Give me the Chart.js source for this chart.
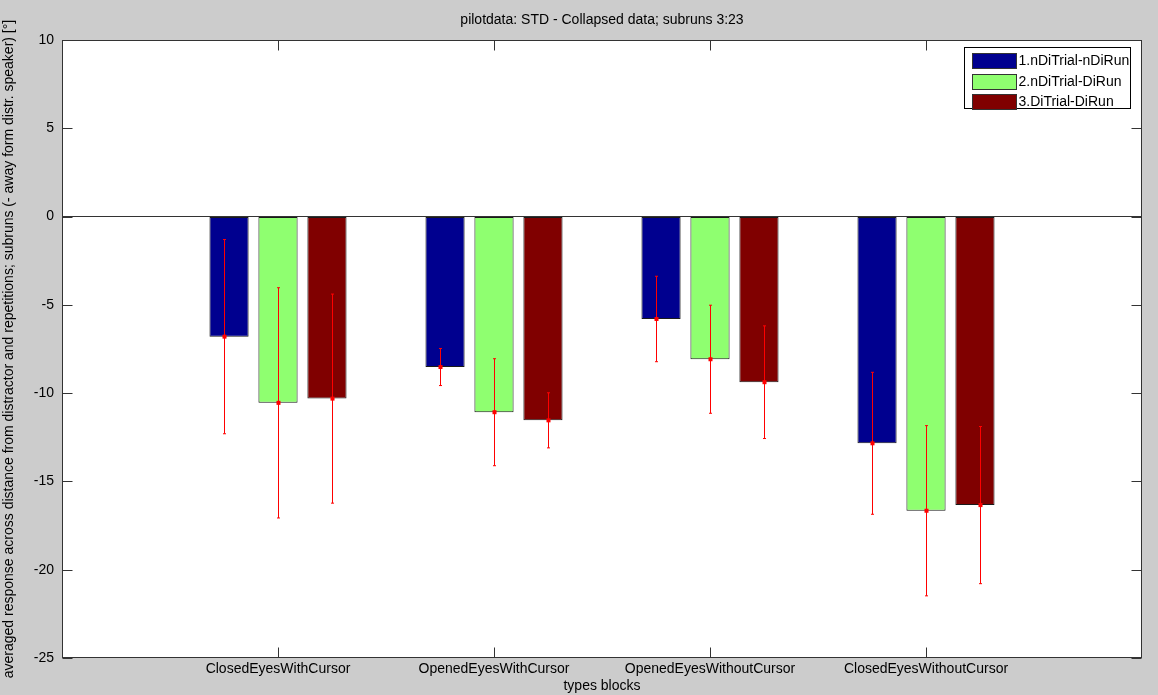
<!DOCTYPE html>
<html><head><meta charset="utf-8">
<script src="https://cdn.jsdelivr.net/npm/chart.js@4.4.0/dist/chart.umd.min.js"></script>
<style>html,body{margin:0;padding:0;background:#cccccc;overflow:hidden;}</style>
</head><body>
<canvas id="c" width="1158" height="695" style="display:block;width:1158px;height:695px;"></canvas>
<script>
// ---- data ----
const categories = ['ClosedEyesWithCursor', 'OpenedEyesWithCursor', 'OpenedEyesWithoutCursor', 'ClosedEyesWithoutCursor'];
const seriesNames = ['1.nDiTrial-nDiRun', '2.nDiTrial-DiRun', '3.DiTrial-DiRun'];
const meanNDiTrialNDiRun = [-6.80, -8.52, -5.80, -12.84];
const meanNDiTrialDiRun  = [-10.55, -11.08, -8.08, -16.66];
const meanDiTrialDiRun   = [-10.31, -11.54, -9.38, -16.34];
const stdNDiTrialNDiRun = [5.50, 1.05, 2.42, 4.02];
const stdNDiTrialDiRun  = [6.52, 3.03, 3.06, 4.82];
const stdDiTrialDiRun   = [5.92, 1.56, 3.19, 4.45];
const yTicks = [-25, -20, -15, -10, -5, 0, 5, 10];
const titleText = 'pilotdata: STD - Collapsed data; subruns 3:23';
const yTitle = 'averaged response across distance from distractor and repetitions; subruns (- away form distr. speaker) [°]';
const xTitle = 'types blocks';

// ---- styling ----
const FONT = 'Liberation Sans, Arial, Helvetica, sans-serif';
const FS = 14;
const barColors = ['#00008F', '#8FFF70', '#800000'];
const errOffsets = [-0.25, 0, 0.25]; // errorbar x positions relative to category (as in source figure)
const means = [meanNDiTrialNDiRun, meanNDiTrialDiRun, meanDiTrialDiRun];
const stds = [stdNDiTrialNDiRun, stdNDiTrialDiRun, stdDiTrialDiRun];

const datasets = seriesNames.map((name, i) => ({
  label: name,
  data: means[i].map((v, j) => ({x: j + 1, y: v})),
  backgroundColor: barColors[i],
  borderColor: '#1a1a1a',
  borderWidth: 1,
  borderSkipped: false,
  categoryPercentage: 0.68,
  barPercentage: 0.8
}));

const bgPlugin = {
  id: 'bg',
  beforeDraw(chart) {
    const {ctx, chartArea: a} = chart;
    ctx.save();
    ctx.fillStyle = '#cccccc';
    ctx.fillRect(0, 0, chart.width, chart.height);
    ctx.fillStyle = '#ffffff';
    ctx.fillRect(a.left, a.top, a.right - a.left, a.bottom - a.top);
    ctx.restore();
  }
};

const errPlugin = {
  id: 'err',
  afterDatasetsDraw(chart) {
    const {ctx} = chart;
    const xs = chart.scales.x, ys = chart.scales.y;
    ctx.save();
    ctx.strokeStyle = '#ff0000';
    ctx.fillStyle = '#ff0000';
    ctx.lineWidth = 1;
    means.forEach((m, i) => {
      m.forEach((v, j) => {
        const x = Math.round(xs.getPixelForValue(j + 1 + errOffsets[i])) + 0.5;
        const yt = ys.getPixelForValue(v + stds[i][j]);
        const yb = ys.getPixelForValue(v - stds[i][j]);
        const ym = ys.getPixelForValue(v);
        ctx.beginPath();
        ctx.moveTo(x, yt); ctx.lineTo(x, yb);
        ctx.moveTo(x - 1.5, yt); ctx.lineTo(x + 1.5, yt);
        ctx.moveTo(x - 1.5, yb); ctx.lineTo(x + 1.5, yb);
        ctx.stroke();
        ctx.fillRect(x - 2, ym - 2, 4, 4);
      });
    });
    ctx.restore();
  }
};

const framePlugin = {
  id: 'frame',
  afterDraw(chart) {
    const {ctx, chartArea: a} = chart;
    const xs = chart.scales.x, ys = chart.scales.y;
    ctx.save();
    ctx.strokeStyle = '#333333';
    ctx.lineWidth = 1;
    const L = Math.round(a.left) + 0.5, R = Math.round(a.right) - 0.5;
    const T = Math.round(a.top) + 0.5, B = Math.round(a.bottom) - 0.5;
    ctx.strokeRect(L, T, R - L, B - T);
    const tl = 10;
    ctx.beginPath();
    xs.ticks.forEach((t, k) => {
      if (t.value < 1 || t.value > categories.length) return;
      const x = Math.round(xs.getPixelForTick(k)) + 0.5;
      ctx.moveTo(x, B); ctx.lineTo(x, B - tl);
      ctx.moveTo(x, T); ctx.lineTo(x, T + tl);
    });
    ys.ticks.forEach((t, k) => {
      const y = Math.round(ys.getPixelForTick(k)) + 0.5;
      ctx.moveTo(L, y); ctx.lineTo(L + tl, y);
      ctx.moveTo(R, y); ctx.lineTo(R - tl, y);
    });
    ctx.stroke();

    // legend
    const lw = 166, lh = 61;
    const lx = Math.round(a.right) - 12 - lw + 0.5, ly = Math.round(a.top) + 7 + 0.5;
    ctx.fillStyle = '#ffffff';
    ctx.fillRect(lx, ly, lw, lh);
    ctx.strokeStyle = '#000000';
    ctx.strokeRect(lx, ly, lw, lh);
    ctx.font = FS + 'px ' + FONT;
    ctx.textBaseline = 'middle';
    ctx.textAlign = 'left';
    chart.data.datasets.forEach((ds, i) => {
      const cy = ly + 13 + i * 20.5;
      ctx.fillStyle = ds.backgroundColor;
      ctx.fillRect(lx + 8, Math.round(cy - 7.5), 44, 15);
      ctx.strokeStyle = '#333333';
      ctx.strokeRect(lx + 8, Math.round(cy - 7.5) + 0.5, 44, 15);
      ctx.fillStyle = '#000000';
      ctx.fillText(ds.label, lx + 54, cy + 1);
    });
    ctx.restore();
  }
};

new Chart(document.getElementById('c'), {
  type: 'bar',
  data: { datasets },
  options: {
    responsive: false,
    animation: false,
    devicePixelRatio: 1,
    layout: { padding: { left: 0, right: 16, top: 0, bottom: 0 } },
    scales: {
      x: {
        type: 'linear',
        min: 0, max: categories.length + 1,
        offset: false,
        afterBuildTicks(scale) {
          const t = [];
          for (let v = 0; v <= categories.length + 1; v++) t.push({value: v});
          scale.ticks = t;
        },
        ticks: {
          autoSkip: false, maxRotation: 0, minRotation: 0,
          padding: 3, color: '#000000',
          font: { family: FONT, size: FS },
          callback: (v) => categories[v - 1] || ''
        },
        grid: { display: false, drawTicks: false },
        border: { display: false },
        title: { display: true, text: xTitle, color: '#000000', font: { family: FONT, size: FS }, padding: { top: 0, bottom: 0 } },
        afterFit(scale) { scale.height = 37; }
      },
      y: {
        type: 'linear',
        min: yTicks[0], max: yTicks[yTicks.length - 1],
        afterBuildTicks(scale) { scale.ticks = yTicks.map(v => ({value: v})); },
        ticks: {
          autoSkip: false, padding: 8, color: '#000000',
          font: { family: FONT, size: FS }
        },
        grid: {
          drawTicks: false,
          color: (c) => (c.tick && c.tick.value === 0) ? '#333333' : 'rgba(0,0,0,0)',
          lineWidth: 1
        },
        border: { display: false },
        title: { display: true, text: yTitle, color: '#000000', font: { family: FONT, size: FS }, padding: { top: 1, bottom: 0 } },
        afterFit(scale) { scale.width = 62; }
      }
    },
    plugins: {
      legend: { display: false },
      tooltip: { enabled: false },
      title: {
        display: true, text: titleText, fullSize: false, color: '#000000',
        font: { family: FONT, size: FS, weight: 'normal' },
        padding: { top: 12, bottom: 11.2 }
      }
    }
  },
  plugins: [bgPlugin, errPlugin, framePlugin]
});
</script>
</body></html>
